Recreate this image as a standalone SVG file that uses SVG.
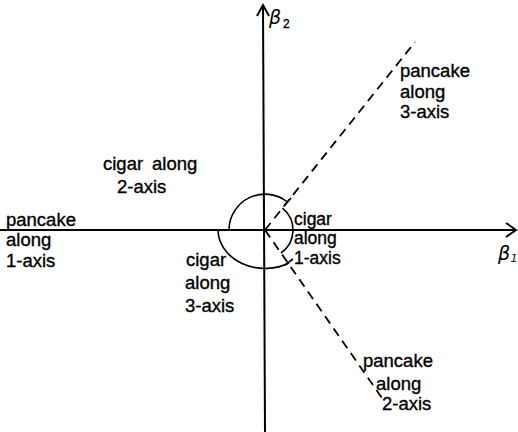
<svg xmlns="http://www.w3.org/2000/svg" width="518" height="432" viewBox="0 0 518 432">
<style>
.ax{stroke:#000;stroke-width:2;fill:none}
.ds{stroke:#000;stroke-width:1.8;fill:none;stroke-dasharray:9 6}
.arc{stroke:#000;stroke-width:1.6;fill:none}
.t{font-family:"Liberation Sans",Arial,sans-serif;font-size:18.5px;fill:#000;stroke:#000;stroke-width:0.35}
.s{font-size:17.5px}
.g{font-family:"DejaVu Sans","Liberation Serif",serif;font-style:italic;fill:#000}
</style>
<rect width="518" height="432" fill="#fff"/>
<g id="connectors">
<line class="ax" x1="0" y1="230" x2="515" y2="230"/>
<polyline class="ax" points="506,223 516,230 506,237"/>
<line class="ax" x1="265" y1="432" x2="263" y2="5"/>
<polyline class="ax" points="257,16 263,5 269,16"/>
<line class="ds" x1="265" y1="230" x2="415" y2="42"/>
<line class="ds" x1="265" y1="230" x2="382" y2="398"/>
<path class="arc" d="M229,230 A36,36 0 0 1 287.5,202"/>
<line class="arc" x1="284" y1="206" x2="291" y2="198"/>
<path class="arc" d="M282.5,208.2 A28,28 0 0 1 281,253"/>
<path class="arc" d="M218,230 A47,39 0 0 0 289,263"/>
<line class="arc" x1="285" y1="265" x2="293" y2="259"/>
</g>
<g id="beta1"><text class="g" x="498" y="260" font-size="19">β</text><text class="g" x="510.5" y="262" font-size="11">1</text></g>
<g id="beta2"><text class="g" x="269" y="24" font-size="19">β</text><text class="t" x="283" y="28" style="font-size:12px">2</text></g>
<g id="cigar2"><text class="t" x="103" y="170">cigar</text><text class="t" x="152" y="170">along</text><text class="t" x="117" y="193">2-axis</text></g>
<g id="pancake1"><text class="t" x="6" y="226">pancake</text><text class="t" x="6" y="246">along</text><text class="t" x="6" y="267">1-axis</text></g>
<g id="cigar3"><text class="t" x="186" y="266">cigar</text><text class="t" x="185" y="289">along</text><text class="t" x="185" y="312">3-axis</text></g>
<g id="cigar1"><text class="t s" x="294" y="225">cigar</text><text class="t s" x="294" y="244">along</text><text class="t s" x="294" y="264">1-axis</text></g>
<g id="pancake3"><text class="t" x="400" y="77">pancake</text><text class="t" x="400" y="98">along</text><text class="t" x="400" y="118">3-axis</text></g>
<g id="pancake2"><text class="t" x="363" y="367">pancake</text><text class="t" x="376" y="390">along</text><text class="t" x="382" y="410">2-axis</text></g>
</svg>
